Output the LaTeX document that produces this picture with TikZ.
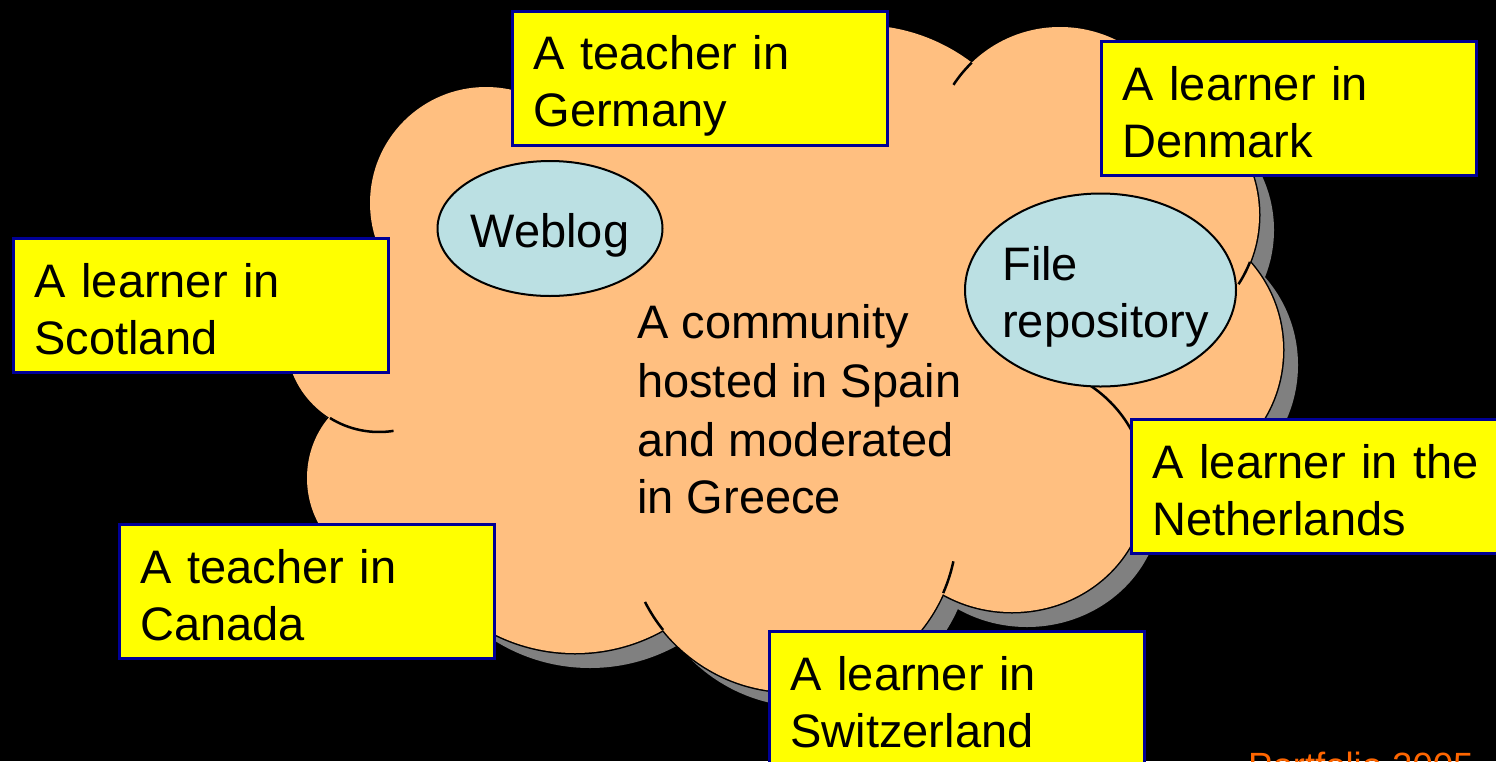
\documentclass[tikz,border=0pt]{standalone}
\usepackage{fontspec}
\setmainfont{Liberation Sans}
\usetikzlibrary{shapes.geometric}
\definecolor{cloudfill}{RGB}{255,191,128}
\definecolor{shadowgray}{RGB}{128,128,128}
\definecolor{boxyellow}{RGB}{255,255,0}
\definecolor{boxblue}{RGB}{0,0,150}
\definecolor{bubblefill}{RGB}{187,224,227}
\definecolor{footorange}{RGB}{255,102,0}
\newcommand\ls{\rule[-8.5pt]{0pt}{57pt}}
\newcommand\cloudparts[1]{%
  \path[#1] (486,203) circle[radius=116];
  \path[#1] (640,160) circle[radius=110];
  \path[#1] (860,210) circle[radius=185];
  \path[#1] (1060,154) circle[radius=127];
  \path[#1] (1132,215) circle[radius=127];
  \path[#1] (1155,350) ellipse[x radius=128, y radius=131];
  \path[#1] (1012,487) ellipse[x radius=134, y radius=125];
  \path[#1] (792,527) circle[radius=165];
  \path[#1] (575,473) circle[radius=180];
  \path[#1] (391,478) ellipse[x radius=84, y radius=90];
  \path[#1] (379,339) circle[radius=93];
  \path[#1] (486,203) -- (640,160) -- (860,210) -- (1060,154) -- (1132,215)
     -- (1155,350) -- (1012,487) -- (792,527) -- (575,473) -- (391,478)
     -- (379,339) -- cycle;
}
\begin{document}
\begin{tikzpicture}[x=1pt,y=-1pt,
  bigtext/.style={font=\fontsize{47}{57}\selectfont},
  labelbox/.style={bigtext, draw=boxblue, line width=3pt, fill=boxyellow,
    anchor=north west, text width=333pt, align=left, inner xsep=21pt,
    inner ysep=0pt, minimum height=134pt},
  bubble/.style={bigtext, ellipse, draw=black, line width=2pt, fill=bubblefill,
    align=left},
  innerarc/.style={draw=black, line width=2.5pt},
]
\useasboundingbox (0,0) rectangle (1496,761);
\fill[black] (0,0) rectangle (1496,761);
\clip (0,0) rectangle (1496,761);

% cloud: shadow, outline, fill
\begin{scope}[shift={(15,15)}]
  \cloudparts{fill=shadowgray}
\end{scope}
\cloudparts{draw=black, line width=3pt}
\cloudparts{fill=cloudfill}

% inner arcs of the cloud
\draw[innerarc] ([shift={(213:127)}]1060,154) arc[start angle=213, end angle=226, radius=127];
\draw[innerarc] ([shift={(21.7:127)}]1132,215) arc[start angle=21.7, end angle=33, radius=127];
\draw[innerarc] ([shift={(-56:134 and 125)}]1012,487) arc[start angle=-56, end angle=-25, x radius=134, y radius=125];
\draw[innerarc] ([shift={(12:165)}]792,527) arc[start angle=12, end angle=23.6, radius=165];
\draw[innerarc] ([shift={(141.4:165)}]792,527) arc[start angle=141.4, end angle=153, radius=165];
\draw[innerarc] ([shift={(81:93)}]379,339) arc[start angle=81, end angle=121.8, radius=93];

% bubbles
\node[bubble, inner sep=-30pt, minimum width=225pt, minimum height=135pt] (weblog)
  at (550,228.5) {\ls Weblog};
\node[bubble, inner sep=-40pt, minimum width=271pt, minimum height=193pt] (filerepo)
  at (1100.5,290) {\ls File\\\ls repository\hspace*{-10pt}};

% central text
\node[bigtext, anchor=north west, inner sep=0pt, align=left] (community) at (637,289.5)
  {\ls A community\\\ls hosted in Spain\\\ls and moderated\\\ls in Greece};

% label boxes
\node[labelbox] (germany) at (511,10) {\ls A teacher in\\\ls Germany};
\node[labelbox] (denmark) at (1100,40) {\ls A learner in\\\ls Denmark};
\node[labelbox] (scotland) at (12,237) {\ls A learner in\\\ls Scotland};
\node[labelbox] (netherlands) at (1130,418) {\ls A learner in the\\\ls Netherlands};
\node[labelbox] (canada) at (118,523) {\ls A teacher in\\\ls Canada};
\node[labelbox] (switzerland) at (768,630) {\ls A learner in\\\ls Switzerland};

% footer
\node[font=\fontsize{36.5}{44}\selectfont, text=footorange, anchor=base west, inner sep=0pt]
  (footer) at (1248,778) {Portfolio 2005};
\end{tikzpicture}
\end{document}
